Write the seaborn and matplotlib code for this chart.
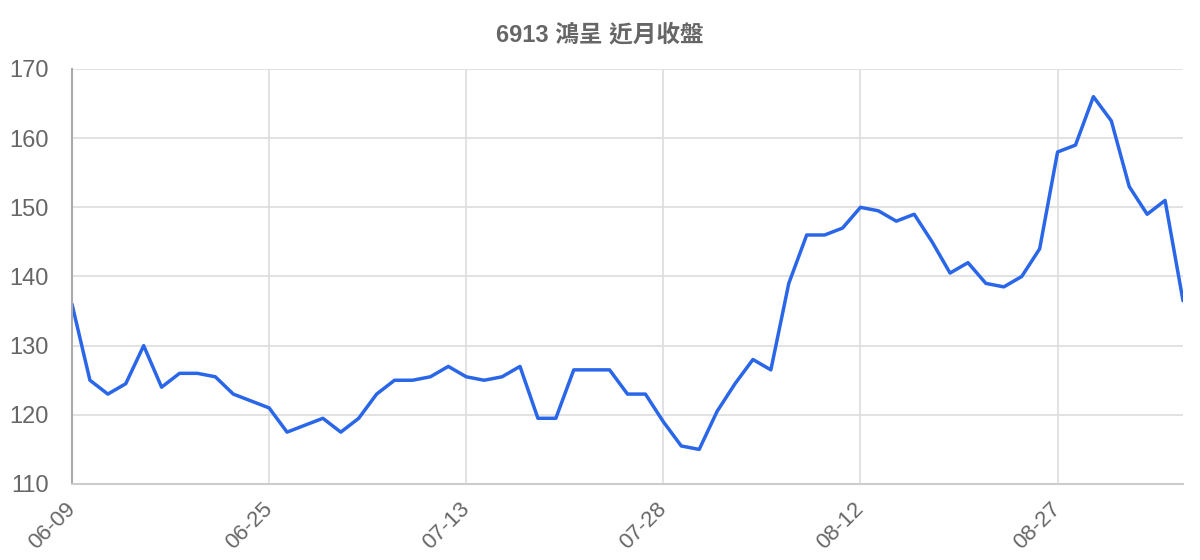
import matplotlib
matplotlib.use("Agg")
import matplotlib.pyplot as plt
import seaborn as sns
import pandas as pd

title = "6913 鴻呈 近月收盤"
tick_labels = ["06-09", "06-25", "07-13", "07-28", "08-12", "08-27"]
tick_step = 11
close = [
    136, 125, 123, 124.5, 130, 124, 126, 126, 125.5, 123,
    122, 121, 117.5, 118.5, 119.5, 117.5, 119.5, 123, 125, 125,
    125.5, 127, 125.5, 125, 125.5, 127, 119.5, 119.5, 126.5, 126.5,
    126.5, 123, 123, 119, 115.5, 115, 120.5, 124.5, 128, 126.5,
    139, 146, 146, 147, 150, 149.5, 148, 149, 145, 140.5,
    142, 139, 138.5, 140, 144, 158, 159, 166, 162.5, 153,
    149, 151, 136.5,
]

df = pd.DataFrame({"idx": range(len(close)), "close": close})

sns.set_theme(style="white")
plt.rcParams["font.family"] = ["Liberation Sans", "Noto Sans CJK TC", "DejaVu Sans"]

fig = plt.figure(figsize=(12, 5.6), dpi=100)
ax = fig.add_axes([72 / 1200, 1 - 484 / 560, (1183 - 72) / 1200, (484 - 69) / 560])

sns.lineplot(data=df, x="idx", y="close", ax=ax, color="#2a66e8", linewidth=2.5)

ax.set_xlim(0, len(close) - 1)
ax.set_ylim(110, 170)
ax.set_yticks(range(110, 171, 10))
ax.set_xticks(range(0, len(close), tick_step))
ax.set_xticklabels(tick_labels, rotation=45, ha="right", va="center",
                   rotation_mode="anchor")

ax.grid(True, color="#dddddd", linewidth=1.2)
ax.set_axisbelow(True)
for s in ["top", "right"]:
    ax.spines[s].set_visible(False)
ax.spines["left"].set_color("#aaaaaa")
ax.spines["left"].set_linewidth(1.5)
ax.spines["bottom"].set_color("#cccccc")
ax.spines["bottom"].set_linewidth(1.5)

ax.tick_params(axis="y", length=14, width=1.2, color="#dddddd", labelsize=17,
               labelcolor="#666666", pad=3)
ax.tick_params(axis="x", length=13, width=1.2, color="#dddddd", labelsize=16,
               labelcolor="#666666", pad=3)
ax.set_xlabel("")
ax.set_ylabel("")

fig.text(0.5, 1 - 35 / 560, title, ha="center", va="center", fontsize=17,
         fontweight="bold", color="#666666")

fig.savefig("out.png", dpi=100)
